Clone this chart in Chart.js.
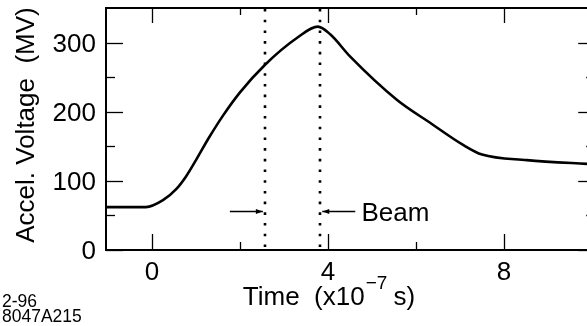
<!DOCTYPE html>
<html>
<head>
<meta charset="utf-8">
<script src="https://cdn.jsdelivr.net/npm/chart.js@4/dist/chart.umd.min.js"></script>
<style>
html,body{margin:0;padding:0;background:#fff;}
canvas{display:block;}
</style>
</head>
<body>
<canvas id="c" width="587" height="326"></canvas>
<script>
// ---- data ----
const timeValues    = [-1.05, -0.14, 0.25, 0.55, 0.77, 1.0, 1.3, 1.61, 2.0, 2.57, 3.3, 3.77, 4.05, 4.5, 5.57, 6.32, 7.07, 7.5, 8.52, 10.05];
const voltageValues = [62, 62, 72, 88, 106, 130, 163, 194, 228, 268, 307, 323, 312, 280, 217, 184, 152, 138, 130, 124];
const xTickMajor = [0, 4, 8];
const xTickMinor = [2, 6];
const xTickLabels = ['0', '4', '8'];
const yTickMajor = [0, 100, 200, 300];
const yTickMinor = [50, 150, 250];
const yTickLabels = ['0', '100', '200', '300'];
const xRange = [-1.045, 9.886];
const xRightAxisAt = 10.05;
const beamMarkers = [2.57, 3.82];
const beamArrowLeft = [1.77, 2.52];
const beamArrowRight = [4.62, 3.87];
const beamArrowLevel = 56;
const beamLabel = 'Beam';
const beamLabelX = 4.76;
const yTitle = 'Accel. Voltage  (MV)';
const xTitleMain = 'Time  (x10';
const xTitleSup = '\u22127';
const xTitleEnd = ' s)';
const cornerLabels = ['2-96', '8047A215'];

const FONT = "'Liberation Sans', Arial, Helvetica, sans-serif";

const framePlugin = {
  id: 'frame',
  afterDraw(chart) {
    const ctx = chart.ctx;
    const a = chart.chartArea;
    const xs = chart.scales.x, ys = chart.scales.y;
    const rightX = xs.getPixelForValue(xRightAxisAt);
    ctx.save();
    ctx.strokeStyle = '#000';
    ctx.fillStyle = '#000';
    // frame (right side lies just past the picture edge)
    ctx.lineWidth = 2;
    ctx.beginPath();
    ctx.moveTo(rightX, a.top);
    ctx.lineTo(a.left, a.top);
    ctx.lineTo(a.left, a.bottom);
    ctx.lineTo(rightX, a.bottom);
    ctx.lineTo(rightX, a.top);
    ctx.stroke();
    // ticks
    ctx.lineWidth = 1.3;
    const tick = (x1, y1, x2, y2) => { ctx.beginPath(); ctx.moveTo(x1, y1); ctx.lineTo(x2, y2); ctx.stroke(); };
    xTickMajor.forEach(v => { const x = Math.round(xs.getPixelForValue(v)) + 0.5; tick(x, a.bottom, x, a.bottom - 16); tick(x, a.top, x, a.top + 15); });
    xTickMinor.forEach(v => { const x = Math.round(xs.getPixelForValue(v)) + 0.5; tick(x, a.bottom, x, a.bottom - 8); tick(x, a.top, x, a.top + 7); });
    yTickMajor.forEach(v => { const y = Math.round(ys.getPixelForValue(v)) + 0.5; tick(a.left, y, a.left + 17, y); tick(rightX, y, rightX - 16, y); });
    yTickMinor.forEach(v => { const y = Math.round(ys.getPixelForValue(v)) + 0.5; tick(a.left, y, a.left + 9, y); tick(rightX, y, rightX - 8, y); });
    // tick labels
    ctx.font = '26px ' + FONT;
    ctx.textBaseline = 'alphabetic';
    ctx.textAlign = 'center';
    xTickMajor.forEach((v, i) => ctx.fillText(xTickLabels[i], xs.getPixelForValue(v), a.bottom + 30));
    ctx.textAlign = 'right';
    yTickMajor.forEach((v, i) => ctx.fillText(yTickLabels[i], a.left - 10, ys.getPixelForValue(v) + 9));
    // dotted beam markers
    ctx.lineWidth = 2.6;
    ctx.setLineDash([2.6, 8.1]);
    beamMarkers.forEach(v => {
      const x = Math.round(xs.getPixelForValue(v));
      tick(x, a.top + 1, x, a.bottom - 2);
    });
    ctx.setLineDash([]);
    // arrows
    const arrow = (t1, t2) => {
      const x1 = xs.getPixelForValue(t1), x2 = xs.getPixelForValue(t2);
      const y = Math.round(ys.getPixelForValue(beamArrowLevel)) + 0.5;
      ctx.lineWidth = 1.3;
      tick(x1, y, x2, y);
      const d = x2 > x1 ? 1 : -1;
      ctx.beginPath();
      ctx.moveTo(x2, y);
      ctx.lineTo(x2 - d * 7, y - 2.5);
      ctx.lineTo(x2 - d * 7, y + 2.5);
      ctx.closePath();
      ctx.fill();
    };
    arrow(beamArrowLeft[0], beamArrowLeft[1]);
    arrow(beamArrowRight[0], beamArrowRight[1]);
    // Beam label
    ctx.font = '26px ' + FONT;
    ctx.textAlign = 'left';
    ctx.textBaseline = 'alphabetic';
    ctx.fillText(beamLabel, xs.getPixelForValue(beamLabelX), ys.getPixelForValue(beamArrowLevel) + 10);
    // y title
    ctx.save();
    ctx.translate(34, 125);
    ctx.rotate(-Math.PI / 2);
    ctx.textAlign = 'center';
    ctx.font = '26px ' + FONT;
    ctx.fillText(yTitle, 0, 0);
    ctx.restore();
    // x title with superscript
    ctx.font = '26px ' + FONT;
    const w1 = ctx.measureText(xTitleMain).width;
    const w3 = ctx.measureText(xTitleEnd).width;
    ctx.font = '19px ' + FONT;
    const w2 = ctx.measureText(xTitleSup).width;
    const total = w1 + w2 + w3;
    const x0 = 329 - total / 2;
    const base = 305;
    ctx.textAlign = 'left';
    ctx.font = '26px ' + FONT;
    ctx.fillText(xTitleMain, x0, base);
    ctx.font = '19px ' + FONT;
    ctx.fillText(xTitleSup, x0 + w1 + 1, base - 16);
    ctx.font = '26px ' + FONT;
    ctx.fillText(xTitleEnd, x0 + w1 + w2, base);
    // corner labels
    ctx.font = '17.5px ' + FONT;
    ctx.fillText(cornerLabels[0], 2, 307);
    ctx.fillText(cornerLabels[1], 2, 322);
    ctx.restore();
  }
};

new Chart(document.getElementById('c'), {
  type: 'line',
  data: {
    datasets: [{
      data: timeValues.map((t, i) => ({ x: t, y: voltageValues[i] })),
      borderColor: '#000',
      borderWidth: 2.6,
      pointRadius: 0,
      fill: false,
      cubicInterpolationMode: 'monotone'
    }]
  },
  options: {
    responsive: false,
    animation: false,
    devicePixelRatio: 1,
    layout: { padding: { top: 8, right: 0, left: 0, bottom: 0 } },
    plugins: { legend: { display: false }, tooltip: { enabled: false }, title: { display: false } },
    scales: {
      x: {
        type: 'linear',
        min: xRange[0],
        max: xRange[1],
        afterFit(s) { s.height = 76; s.paddingLeft = 0; s.paddingRight = 0; },
        ticks: { display: false },
        grid: { display: false, drawTicks: false },
        border: { display: false }
      },
      y: {
        type: 'linear',
        min: 0,
        max: 350,
        afterFit(s) { s.width = 106; s.paddingTop = 0; s.paddingBottom = 0; },
        ticks: { display: false },
        grid: { display: false, drawTicks: false },
        border: { display: false }
      }
    }
  },
  plugins: [framePlugin]
});
</script>
</body>
</html>
